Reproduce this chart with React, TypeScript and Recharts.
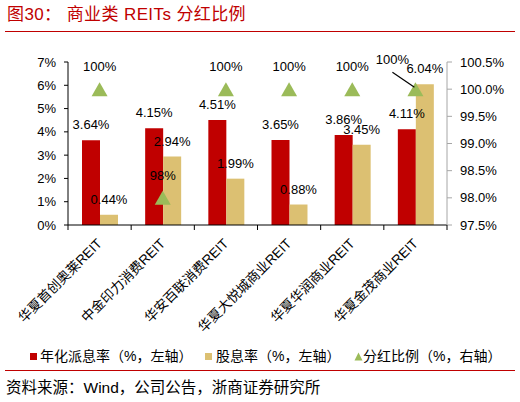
import React from 'react';
import { ComposedChart, Bar, Line, XAxis, YAxis, LabelList } from 'recharts';

const categories = ['华夏首创奥莱REIT', '中金印力消费REIT', '华安百联消费REIT', '华夏大悦城商业REIT', '华夏华润商业REIT', '华夏金茂商业REIT'];
const annualizedYield = [3.64, 4.15, 4.51, 3.65, 3.86, 4.11];
const dividendYield = [0.44, 2.94, 1.99, 0.88, 3.45, 6.04];
const payoutRatio = [100, 98, 100, 100, 100, 100];
const leftTicks = [0, 1, 2, 3, 4, 5, 6, 7];
const rightTicks = [97.5, 98, 98.5, 99, 99.5, 100, 100.5];

const data = categories.map((name, i) => ({
  name,
  annual: annualizedYield[i],
  dividend: dividendYield[i],
  ratio: payoutRatio[i],
}));

const FONT = '"Liberation Sans", Arial, "Noto Sans CJK SC", sans-serif';
const RED = '#C00000';
const TAN = '#DCC072';
const GREEN = '#9BBB59';

const TriangleDot = (props: any) => {
  const { cx, cy, index } = props;
  if (cx == null || cy == null) return null;
  return <path key={index} d={`M${cx},${cy - 7} L${cx + 8},${cy + 7} L${cx - 8},${cy + 7} Z`} fill={GREEN} />;
};

const RatioLabel = (props: any) => {
  const { x, y, value, index } = props;
  if (x == null || y == null) return null;
  if (index === categories.length - 1) {
    return (
      <g>
        <line x1={x - 23} y1={y - 17} x2={x - 1} y2={y - 2} stroke="#000" strokeWidth={1.2} />
        <text x={x - 23} y={y - 25} textAnchor="middle" fontSize={13} fill="#000" fontFamily={FONT}>{`${value}%`}</text>
      </g>
    );
  }
  return (
    <text x={x} y={y - 18} textAnchor="middle" fontSize={13} fill="#000" fontFamily={FONT}>{`${value}%`}</text>
  );
};

const CategoryTick = (props: any) => {
  const { x, y, payload, index } = props;
  const half = payload && payload.offset ? payload.offset : 31.6;
  const ty = y + 16;
  return (
    <g>
      <line x1={x - half} y1={y} x2={x - half} y2={y + 5} stroke="#000" />
      {index === categories.length - 1 && <line x1={x + half} y1={y} x2={x + half} y2={y + 5} stroke="#000" />}
      <text
        x={x}
        y={ty}
        dy="0.35em"
        textAnchor="end"
        transform={`rotate(-45, ${x}, ${ty})`}
        fontSize={13.5}
        fill="#000"
        fontFamily={FONT}
      >
        {payload.value}
      </text>
    </g>
  );
};

const legendText: React.CSSProperties = {
  position: 'absolute',
  top: 347,
  fontSize: 14,
  lineHeight: '18px',
  color: '#000',
  fontFamily: FONT,
  whiteSpace: 'nowrap',
};

export default function App() {
  return (
    <div style={{ position: 'absolute', left: 0, top: 0, width: 520, height: 402, background: '#fff', fontFamily: FONT, overflow: 'hidden' }}>
      <div style={{ position: 'absolute', left: 7, top: 4, fontSize: 17, lineHeight: '22px', color: RED, whiteSpace: 'pre', fontFamily: FONT, letterSpacing: 0.4 }}>
        {'图30： 商业类 REITs 分红比例'}
      </div>
      <div style={{ position: 'absolute', left: 5, top: 31, width: 510, height: 1, background: RED }} />
      <div style={{ position: 'absolute', left: 0, top: 0 }}>
        <ComposedChart width={520} height={340} data={data} margin={{ top: 62, right: 0, bottom: 0, left: 0 }} barGap={0}>
          <XAxis
            dataKey="name"
            xAxisId="x"
            interval={0}
            tickLine={false}
            tickSize={0}
            tickMargin={0}
            axisLine={{ stroke: '#000' }}
            height={115}
            tick={<CategoryTick />}
          />
          <YAxis
            yAxisId="left"
            domain={[0, 7]}
            ticks={leftTicks}
            interval={0}
            width={68}
            tickSize={4}
            tickMargin={8}
            axisLine={{ stroke: '#000' }}
            tickLine={{ stroke: '#000' }}
            tick={{ fontSize: 13, fill: '#000', fontFamily: FONT }}
            tickFormatter={(v: number) => `${v}%`}
          />
          <YAxis
            yAxisId="right"
            orientation="right"
            domain={[97.5, 100.5]}
            ticks={rightTicks}
            interval={0}
            width={73}
            tickSize={5}
            tickMargin={8}
            axisLine={{ stroke: '#A6A6A6' }}
            tickLine={{ stroke: '#A6A6A6' }}
            tick={{ fontSize: 13, fill: '#000', fontFamily: FONT, textAnchor: 'start' }}
            tickFormatter={(v: number) => `${v.toFixed(1)}%`}
          />
          <Bar dataKey="annual" xAxisId="x" yAxisId="left" fill={RED} barSize={18} isAnimationActive={false}>
            <LabelList dataKey="annual" position="top" offset={11} fontSize={13} fill="#000" fontFamily={FONT} formatter={(v: any) => `${Number(v).toFixed(2)}%`} />
          </Bar>
          <Bar dataKey="dividend" xAxisId="x" yAxisId="left" fill={TAN} barSize={18} isAnimationActive={false}>
            <LabelList dataKey="dividend" position="top" offset={11} fontSize={13} fill="#000" fontFamily={FONT} formatter={(v: any) => `${Number(v).toFixed(2)}%`} />
          </Bar>
          <Line
            dataKey="ratio"
            xAxisId="x"
            yAxisId="right"
            stroke="none"
            dot={<TriangleDot />}
            activeDot={false}
            isAnimationActive={false}
          >
            <LabelList dataKey="ratio" content={<RatioLabel />} />
          </Line>
        </ComposedChart>
      </div>
      <div style={{ position: 'absolute', left: 30, top: 353, width: 7, height: 7, background: RED }} />
      <div style={{ ...legendText, left: 40 }}>年化派息率（%，左轴）</div>
      <div style={{ position: 'absolute', left: 205, top: 353, width: 7, height: 7, background: TAN }} />
      <div style={{ ...legendText, left: 216 }}>股息率（%，左轴）</div>
      <svg style={{ position: 'absolute', left: 354, top: 352 }} width={9} height={9}>
        <path d="M4.5,0.5 L8.5,8.5 L0.5,8.5 Z" fill={GREEN} />
      </svg>
      <div style={{ ...legendText, left: 363 }}>分红比例（%，右轴）</div>
      <div style={{ position: 'absolute', left: 5, top: 370, width: 510, height: 1, background: RED }} />
      <div style={{ position: 'absolute', left: 6, top: 378, fontSize: 15.5, lineHeight: '20px', color: '#000', fontFamily: FONT, whiteSpace: 'nowrap' }}>
        资料来源：Wind，公司公告，浙商证券研究所
      </div>
    </div>
  );
}
